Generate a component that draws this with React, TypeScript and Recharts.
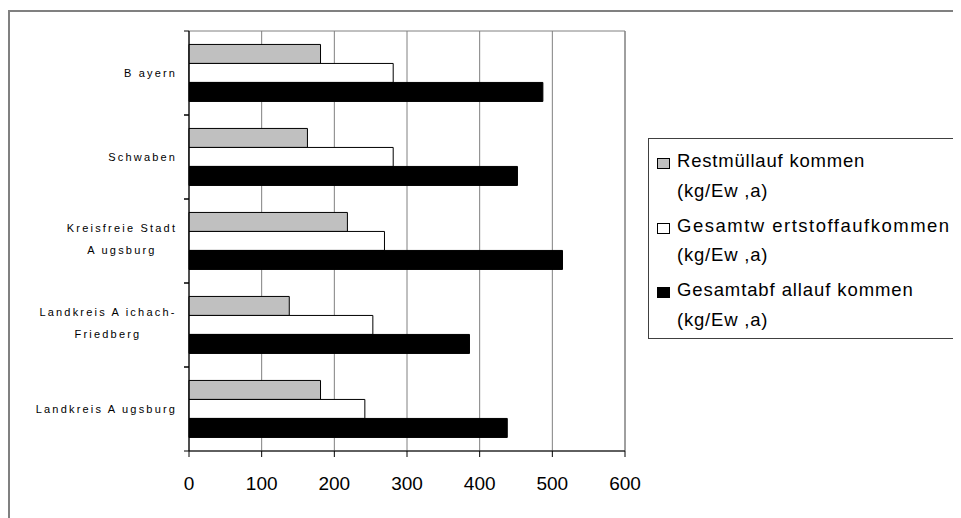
import React from 'react';
import { BarChart, Bar, XAxis, YAxis, CartesianGrid, ReferenceArea } from 'recharts';

const categories = ['B ayern', 'Schwaben', 'Kreisfreie Stadt\nA ugsburg', 'Landkreis A ichach-\nFriedberg', 'Landkreis A ugsburg'];
const restmuell = [181, 163, 218, 138, 181];
const wertstoff = [281, 281, 269, 253, 242];
const gesamtabfall = [487, 452, 514, 386, 438];
const seriesNames = ['Restmüllauf kommen\n(kg/Ew ,a)', 'Gesamtw ertstoffaufkommen\n(kg/Ew ,a)', 'Gesamtabf allauf kommen\n(kg/Ew ,a)'];
const seriesColors = ['#C0C0C0', '#FFFFFF', '#000000'];
const xTicks = [0, 100, 200, 300, 400, 500, 600];

const legendFirstLineSpacing = [0.8, 1.5, 0.9];

const data = categories.map((c, i) => ({
  name: c,
  rest: restmuell[i],
  wert: wertstoff[i],
  ges: gesamtabfall[i],
}));

const FONT = '"Liberation Sans", Arial, sans-serif';
const CAT_FS = 11;
const CAT_LS = 2.2;

let ctx: CanvasRenderingContext2D | null = null;
function measure(t: string) {
  if (!ctx) ctx = document.createElement('canvas').getContext('2d');
  if (!ctx) return t.length * 7;
  ctx.font = `${CAT_FS}px "Liberation Sans"`;
  return ctx.measureText(t).width + t.length * CAT_LS;
}

const CatTick = (props: any) => {
  const { x, y, payload } = props;
  const lines = String(payload.value).split('\n');
  const off = payload.offset ?? 0;
  const right = x + CAT_LS;
  const axisX = x + 14;
  const widths = lines.map(measure);
  const maxW = Math.max(...widths);
  const first = lines.length === 1 ? y + 3.5 : y - 9.5;
  return (
    <g>
      <line x1={axisX - 5} x2={axisX} y1={y - off} y2={y - off} stroke="#000" strokeWidth={1} />
      <line x1={axisX - 5} x2={axisX} y1={y + off} y2={y + off} stroke="#000" strokeWidth={1} />
      {lines.map((l, i) => (
        <text
          key={i}
          x={lines.length === 1 ? right : right - maxW / 2}
          y={first + i * 22.5}
          textAnchor={lines.length === 1 ? 'end' : 'middle'}
          fontSize={CAT_FS}
          fontFamily={FONT}
          fill="#000"
          style={{ letterSpacing: CAT_LS }}
        >
          {l}
        </text>
      ))}
    </g>
  );
};

const LINE_H = 29.5;

const LegendBox = () => (
  <div
    style={{
      position: 'absolute',
      left: 640,
      top: 130,
      width: 310,
      height: 199,
      border: '1px solid #404040',
      background: '#fff',
      fontFamily: FONT,
      fontSize: 18.5,
      color: '#000',
      boxSizing: 'content-box',
    }}
  >
    {seriesNames.map((n, i) => {
      const parts = n.split('\n');
      return (
        <div key={i} style={{ position: 'absolute', left: 0, top: 7 + i * 64.5, width: 310 }}>
          <div
            style={{
              position: 'absolute',
              left: 8,
              top: 12,
              width: 11,
              height: 9,
              background: seriesColors[i],
              border: '1px solid #000',
            }}
          />
          {parts.map((p, j) => (
            <div
              key={j}
              style={{
                position: 'absolute',
                left: 28,
                top: j * LINE_H,
                height: LINE_H,
                lineHeight: `${LINE_H}px`,
                whiteSpace: 'nowrap',
                letterSpacing: j === 0 ? legendFirstLineSpacing[i] : 0.8,
              }}
            >
              {p}
            </div>
          ))}
        </div>
      );
    })}
  </div>
);

export default function App() {
  return (
    <div style={{ position: 'relative', width: 953, height: 510, overflow: 'hidden', background: '#fff' }}>
      <div
        style={{
          position: 'absolute',
          left: 0,
          top: 2,
          width: 1100,
          height: 700,
          border: '2px solid #808080',
        }}
      />
      <div style={{ position: 'absolute', left: 0, top: 0 }}>
        <BarChart
          width={953}
          height={510}
          data={data}
          layout="vertical"
          margin={{ top: 23, right: 336, bottom: 37, left: 0 }}
          barCategoryGap="16%"
          barGap={0}
        >
          <CartesianGrid horizontal={false} vertical={true} stroke="#808080" strokeWidth={1} />
          <ReferenceArea x1={0} x2={600} fill="none" fillOpacity={0} stroke="#808080" strokeWidth={1} ifOverflow="visible" />
          <XAxis
            type="number"
            domain={[0, 600]}
            ticks={xTicks}
            interval={0}
            height={30}
            tickSize={6}
            tickMargin={20}
            axisLine={{ stroke: '#000' }}
            tickLine={{ stroke: '#000' }}
            tick={{ fontSize: 19, fontFamily: FONT, fill: '#000' }}
          />
          <YAxis
            type="category"
            dataKey="name"
            width={181}
            tickLine={false}
            tickSize={5}
            tickMargin={9}
            interval={0}
            axisLine={{ stroke: '#000' }}
            tick={<CatTick />}
          />
          <Bar dataKey="rest" name={seriesNames[0]} fill={seriesColors[0]} stroke="#000" strokeWidth={1} isAnimationActive={false} />
          <Bar dataKey="wert" name={seriesNames[1]} fill={seriesColors[1]} stroke="#000" strokeWidth={1} isAnimationActive={false} />
          <Bar dataKey="ges" name={seriesNames[2]} fill={seriesColors[2]} stroke="#000" strokeWidth={1} isAnimationActive={false} />
        </BarChart>
      </div>
      <LegendBox />
    </div>
  );
}
